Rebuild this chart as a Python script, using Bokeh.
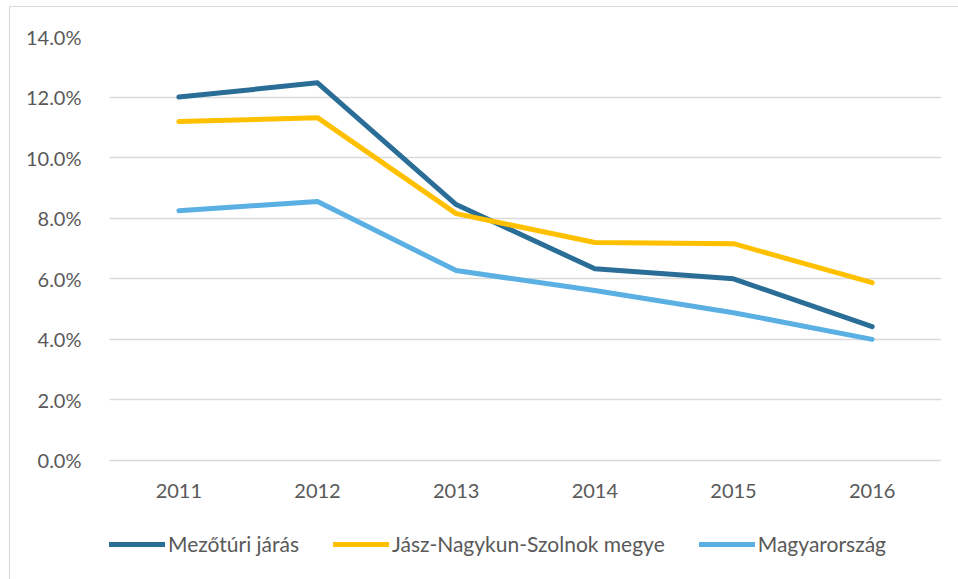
from bokeh.plotting import figure
from bokeh.models import ColumnDataSource, Legend, LegendItem, NumeralTickFormatter, FixedTicker
from bokeh.core.properties import value
from bokeh.embed import file_html
from bokeh.resources import INLINE

years = ["2011", "2012", "2013", "2014", "2015", "2016"]
mezotur = [0.1200, 0.1247, 0.0845, 0.0633, 0.0600, 0.0442]
jnsz = [0.1119, 0.1132, 0.0815, 0.0720, 0.0716, 0.0587]
hungary = [0.0825, 0.0855, 0.0627, 0.0561, 0.0488, 0.0400]
names = ["Mezőtúri járás", "Jász-Nagykun-Szolnok megye", "Magyarország"]
colors = ["#2a6d96", "#ffc000", "#5aafe3"]
y_ticks = [0, 0.02, 0.04, 0.06, 0.08, 0.10, 0.12, 0.14]

FONT = "Lato"
TXT = "#595959"

p = figure(x_range=years, y_range=(-0.036, 0.14), width=948, height=572,
           frame_width=832, frame_height=533, x_axis_location=None,
           output_backend="svg", toolbar_location=None,
           min_border_left=99, min_border_right=17, min_border_top=29, min_border_bottom=10)
p.margin = (6, 0, 0, 9)
p.styles = {"border-top": "1.5px solid #d9d9d9", "border-left": "1.5px solid #d9d9d9"}
p.outline_line_color = None
p.background_fill_color = "white"

src = ColumnDataSource(dict(x=years, a=mezotur, b=jnsz, c=hungary))
renderers = []
for col, color in zip(["a", "b", "c"], colors):
    r = p.line("x", col, source=src, line_color=color, line_width=5,
               line_cap="round", line_join="round")
    renderers.append(r)

# category labels under the zero line
lab = ColumnDataSource(dict(x=years, y=[0] * len(years), t=years))
p.text("x", "y", text="t", source=lab, y_offset=31, text_align="center",
       text_baseline="middle", text_font=value(FONT), text_font_size="20px",
       text_color=TXT)

p.yaxis.ticker = FixedTicker(ticks=y_ticks)
p.yaxis.formatter = NumeralTickFormatter(format="0.0%")
p.yaxis.major_tick_line_color = None
p.yaxis.minor_tick_line_color = None
p.yaxis.major_label_text_font = FONT
p.yaxis.major_label_text_font_size = "20px"
p.yaxis.major_label_text_color = TXT
p.yaxis.axis_line_color = None
p.yaxis.major_label_standoff = 22
p.xgrid.grid_line_color = None
p.ygrid.ticker = FixedTicker(ticks=y_ticks)
p.ygrid.grid_line_color = "#d9d9d9"
p.ygrid.grid_line_width = 1.5

legend = Legend(items=[LegendItem(label=n, renderers=[r]) for n, r in zip(names, renderers)],
                orientation="horizontal", location=(0, 13),
                label_text_font=FONT, label_text_font_size="21px", label_text_color=TXT,
                glyph_width=56, glyph_height=22, label_height=22, label_standoff=3, spacing=34,
                border_line_color=None, background_fill_alpha=0, margin=0, padding=0)
p.add_layout(legend)

open("out.html", "w").write(file_html(p, INLINE))
